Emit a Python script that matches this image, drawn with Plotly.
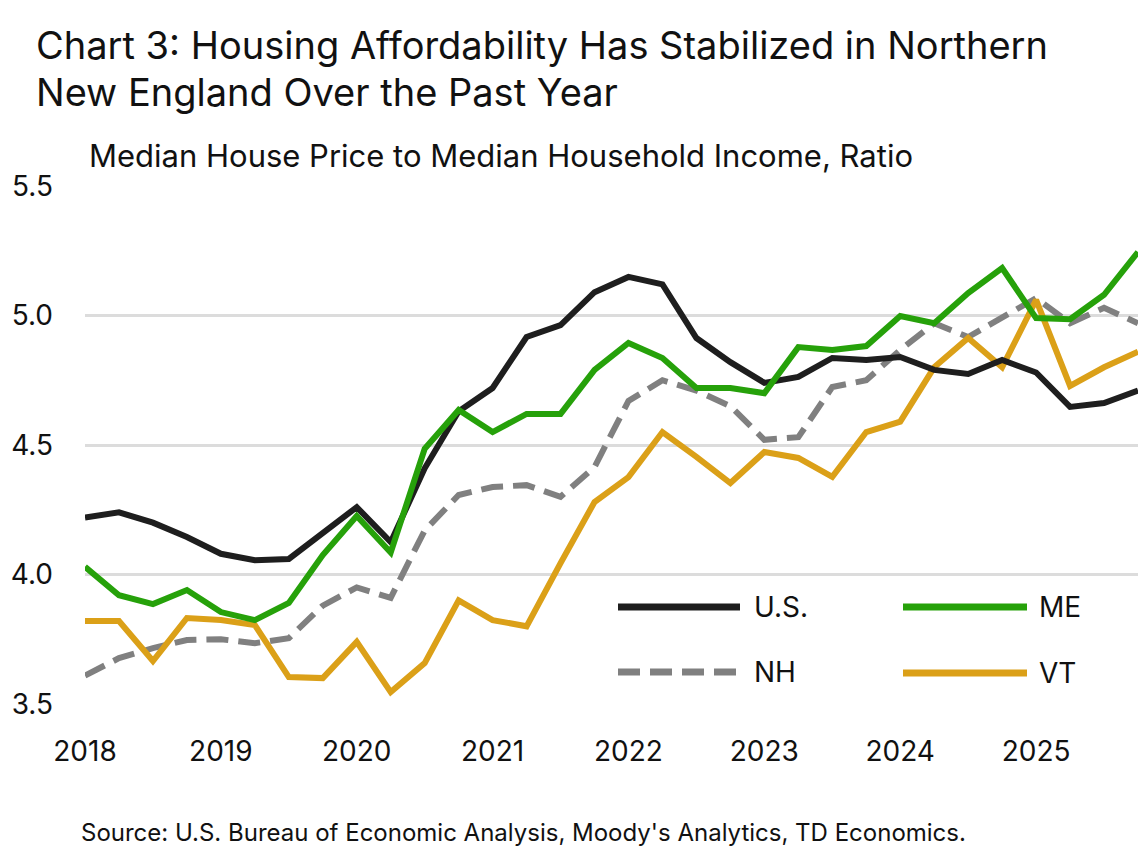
import plotly.graph_objects as go

# ---- data ----
quarters = [f"{y}Q{q}" for y in range(2018, 2026) for q in range(1, 5)]
year_ticks = ["2018Q1", "2019Q1", "2020Q1", "2021Q1", "2022Q1", "2023Q1", "2024Q1", "2025Q1"]
year_labels = ["2018", "2019", "2020", "2021", "2022", "2023", "2024", "2025"]

us = [4.22, 4.24, 4.20, 4.145, 4.08, 4.055, 4.06, 4.16,
      4.26, 4.125, 4.41, 4.63, 4.72, 4.917, 4.963, 5.09,
      5.149, 5.12, 4.913, 4.82, 4.74, 4.763, 4.836, 4.828,
      4.84, 4.79, 4.774, 4.828, 4.78, 4.647, 4.662, 4.71]
me = [4.03, 3.92, 3.886, 3.94, 3.855, 3.824, 3.89, 4.075,
      4.226, 4.085, 4.485, 4.635, 4.55, 4.62, 4.62, 4.79,
      4.894, 4.836, 4.72, 4.72, 4.70, 4.878, 4.867, 4.882,
      4.998, 4.97, 5.087, 5.183, 4.99, 4.986, 5.08, 5.245]
nh = [3.61, 3.677, 3.716, 3.747, 3.75, 3.735, 3.754, 3.88,
      3.95, 3.91, 4.17, 4.307, 4.338, 4.345, 4.30, 4.415,
      4.67, 4.75, 4.71, 4.65, 4.52, 4.53, 4.724, 4.75,
      4.867, 4.97, 4.917, 4.994, 5.067, 4.97, 5.03, 4.97]
vt = [3.82, 3.82, 3.666, 3.832, 3.824, 3.805, 3.604, 3.60,
      3.74, 3.546, 3.658, 3.90, 3.824, 3.80, 4.044, 4.28,
      4.376, 4.55, 4.454, 4.353, 4.473, 4.45, 4.377, 4.55,
      4.59, 4.80, 4.913, 4.80, 5.06, 4.728, 4.80, 4.86]

series_names = ["U.S.", "ME", "NH", "VT"]
colors = {"U.S.": "#1e1e1e", "ME": "#26a10a", "NH": "#808080", "VT": "#dba018"}
dashes = {"U.S.": "solid", "ME": "solid", "NH": "22px,10px", "VT": "solid"}
values = {"U.S.": us, "ME": me, "NH": nh, "VT": vt}

FONT = "Inter"
TXT = "#111111"

fig = go.Figure()
for name in ["NH", "VT", "U.S.", "ME"]:
    fig.add_trace(go.Scatter(
        x=quarters, y=values[name], mode="lines", name=name,
        line=dict(color=colors[name], width=6, dash=dashes[name]),
        showlegend=False,
    ))

# plot area: x 85..1138, y 186..704 (px)
L, R, T, B = 85, 1138, 186, 704
W, H = R - L, B - T
def px(xp):
    return (xp - L) / W
def py(yp):
    return (B - yp) / H

annotations = [
    dict(text="Chart 3: Housing Affordability Has Stabilized in Northern", x=px(34), y=py(45),
         font=dict(size=38, color=TXT, family=FONT)),
    dict(text="New England Over the Past Year", x=px(34), y=py(92),
         font=dict(size=38, color=TXT, family=FONT)),
    dict(text="Median House Price to Median Household Income, Ratio", x=px(87), y=py(155),
         font=dict(size=31, color=TXT, family=FONT)),
    dict(text="Source: U.S. Bureau of Economic Analysis, Moody's Analytics, TD Economics.", x=px(79), y=py(832),
         font=dict(size=24, color=TXT, family=FONT)),
]
# legend (manual)
legend_items = [
    ("U.S.", 618, 740, 607, 752),
    ("NH", 618, 740, 672, 752),
    ("ME", 903, 1027, 607, 1037),
    ("VT", 903, 1027, 673, 1037),
]
shapes = []
for name, x0, x1, yy, xt in legend_items:
    shapes.append(dict(type="line", xref="paper", yref="paper",
                       x0=px(x0), x1=px(x1), y0=py(yy), y1=py(yy),
                       line=dict(color=colors[name], width=7, dash=dashes[name])))
    annotations.append(dict(text=name, x=px(xt), y=py(yy),
                            font=dict(size=28, color=TXT, family=FONT)))
for a in annotations:
    a.update(xref="paper", yref="paper", xanchor="left", yanchor="middle", showarrow=False)

fig.update_layout(
    width=1138, height=850,
    margin=dict(l=L, r=1138 - R, t=T, b=850 - B),
    paper_bgcolor="white", plot_bgcolor="white",
    font=dict(family=FONT, color=TXT),
    annotations=annotations, shapes=shapes,
    xaxis=dict(
        type="category", categoryorder="array", categoryarray=quarters,
        range=[0, len(quarters) - 1],
        tickvals=year_ticks, ticktext=year_labels,
        showgrid=False, zeroline=False, showline=False,
        ticks="", ticklabelstandoff=28,
        tickfont=dict(size=28, color=TXT, family=FONT),
    ),
    yaxis=dict(
        range=[3.5, 5.5], tickvals=[3.5, 4.0, 4.5, 5.0, 5.5],
        ticktext=["3.5", "4.0", "4.5", "5.0", "5.5"],
        showgrid=True, gridcolor="#dcdcdc", gridwidth=3,
        zeroline=False, showline=False, ticks="", ticklabelstandoff=31,
        tickfont=dict(size=28, color=TXT, family=FONT),
    ),
)

fig.write_html("out.html")
